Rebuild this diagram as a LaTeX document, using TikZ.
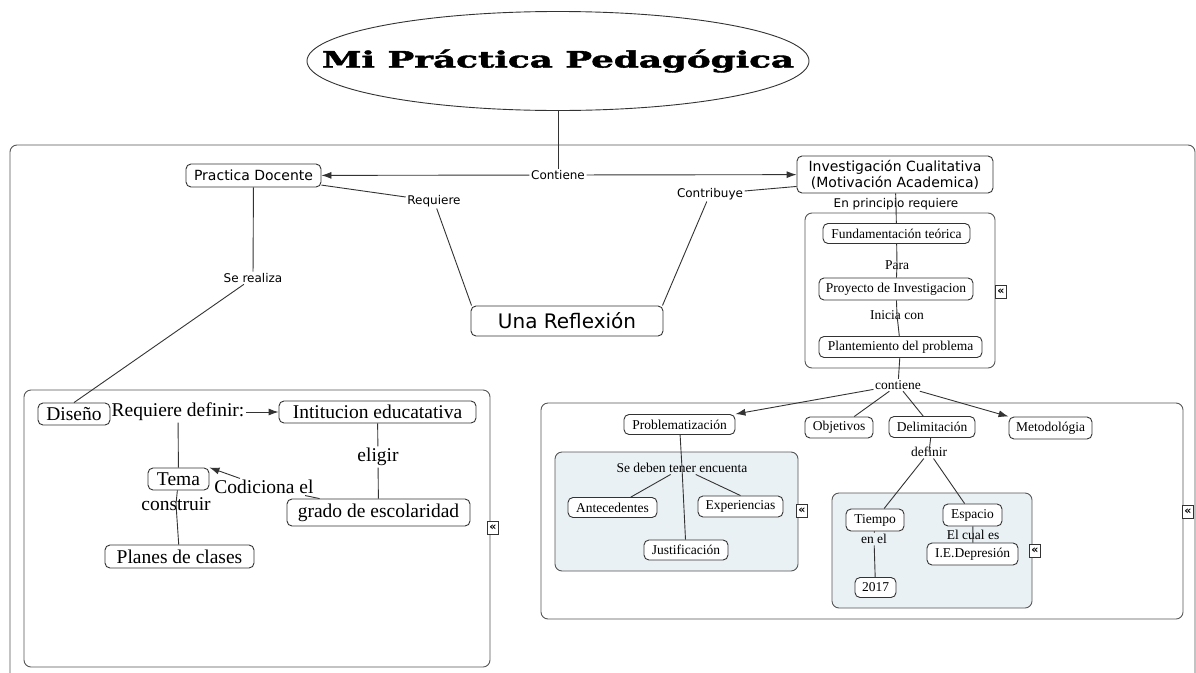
\documentclass[tikz,border=0pt]{standalone}
\usepackage{fontspec}
\setmainfont{Liberation Serif}
\newfontfamily\sansf{DejaVu Sans}
\newfontfamily\titlef[FakeBold=1.6]{DejaVu Serif Bold}
\usetikzlibrary{shapes.geometric,arrows.meta}
\definecolor{ln}{HTML}{333333}
\definecolor{grp}{HTML}{555555}
\definecolor{panel}{HTML}{EAF1F4}
\tikzset{
  concept/.style={draw=ln, line width=0.9pt, rounded corners=5pt, fill=white, inner sep=0pt, align=center},
  sansc/.style={concept, font=\sansf\fontsize{14}{16}\selectfont},
  rser/.style={concept, font=\fontsize{13.5}{15}\selectfont},
  lser/.style={concept, font=\fontsize{19.5}{21}\selectfont},
  slab/.style={inner sep=1.5pt, font=\sansf\fontsize{12}{14}\selectfont},
  rlab/.style={inner sep=1.5pt, font=\fontsize{13.5}{15}\selectfont},
  llab/.style={inner sep=1.5pt, font=\fontsize{19.5}{21}\selectfont},
  conn/.style={draw=ln, line width=0.9pt},
  arr/.style={conn, -{Latex[length=10pt,width=7pt]}},
  group/.style={draw=grp, line width=0.9pt, rounded corners=7pt},
  collapse/.style={draw=ln, line width=0.8pt, fill=white, inner sep=0pt, minimum width=11pt, minimum height=13pt, font=\sansf\bfseries\fontsize{11}{11}\selectfont},
}
\begin{document}
\begin{tikzpicture}[x=1pt, y=-1pt]
\useasboundingbox (0,0) rectangle (1196,672);
\clip (0,0) rectangle (1196,672);
\fill[white] (0,0) rectangle (1196,672);

% group frames
\draw[group] (10,145) rectangle (1195,720);
\draw[group] (24,390) rectangle (490,667);
\draw[group] (805,213) rectangle (995,368);
\draw[group] (541,403) rectangle (1183,619);
\draw[group, fill=panel] (555,452) rectangle (798,571);
\draw[group, fill=panel] (832,493) rectangle (1032,608);

% title
\node[draw=ln, line width=0.9pt, fill=white, shape=ellipse, inner sep=0pt, minimum width=502pt, minimum height=99pt,
      font=\titlef\fontsize{21.5}{24}\selectfont] (title) at (558,61) {\makebox[0pt]{\scalebox{1.66}[1.05]{Mi Práctica Pedagógica}}};

% top level
\node[sansc, minimum width=135pt, minimum height=23pt] (pd) at (253.5,175.5) {Practica Docente};
\node[sansc, minimum width=196pt, minimum height=37pt] (inv) at (895,174.5) {Investigación Cualitativa\\(Motivación Academica)};
\node[concept, font=\sansf\fontsize{20}{22}\selectfont, minimum width=192pt, minimum height=30pt] (refl) at (567,321) {Una Reflexión};
\node[slab] (cont) at (558,175) {Contiene};
\node[slab] (req) at (434,201) {Requiere};
\node[slab] (contr) at (710,194) {Contribuye};
\node[slab] (ser) at (253,278) {Se realiza};
\node[slab] (enp) at (896,204) {En principio requiere};

% research stack
\node[rser, minimum width=147pt, minimum height=20pt] (fund) at (896.5,233.5) {Fundamentación teórica};
\node[rlab] (para) at (897,265) {Para};
\node[rser, minimum width=154pt, minimum height=22pt] (proy) at (896,289) {Proyecto de Investigacion};
\node[rlab] (ini) at (897,315) {Inicia con};
\node[rser, minimum width=163pt, minimum height=21pt] (plant) at (900.5,347) {Plantemiento del problema};
\node[rlab] (cont2) at (898,385) {contiene};

% right box
\node[rser, minimum width=111pt, minimum height=20pt] (prob) at (679.5,424.5) {Problematización};
\node[rser, minimum width=68pt, minimum height=21pt] (obj) at (839,427.5) {Objetivos};
\node[rser, minimum width=86pt, minimum height=21pt] (deli) at (932,427) {Delimitación};
\node[rser, minimum width=83pt, minimum height=22pt] (meto) at (1050.5,428) {Metodológia};
\node[rlab] (sed) at (682,468) {Se deben tener encuenta};
\node[rser, minimum width=89pt, minimum height=20pt] (ante) at (612.5,507.5) {Antecedentes};
\node[rser, minimum width=85pt, minimum height=21pt] (expe) at (740.5,506.5) {Experiencias};
\node[rser, minimum width=84pt, minimum height=20pt] (just) at (686,550) {Justificación};
\node[rlab] (def) at (929,452) {definir};
\node[rser, minimum width=58pt, minimum height=22pt] (tiem) at (875,520) {Tiempo};
\node[rser, minimum width=59pt, minimum height=22pt] (espa) at (972.5,515) {Espacio};
\node[rlab] (enel) at (874,539) {en el};
\node[rser, minimum width=41pt, minimum height=20pt] (y2017) at (875.5,587.5) {2017};
\node[rlab] (elcu) at (973,535) {El cual es};
\node[rser, minimum width=91pt, minimum height=22pt] (ied) at (972.5,554) {I.E.Depresión};

% left box
\node[lser, minimum width=72pt, minimum height=22pt] (dis) at (74,414) {Diseño};
\node[llab] (rdef) at (178,412) {Requiere definir:};
\node[lser, minimum width=197pt, minimum height=22pt] (inst) at (377.5,412) {Intitucion educatativa};
\node[lser, minimum width=61pt, minimum height=22pt] (tema) at (178.5,479) {Tema};
\node[llab] (cons) at (176,504) {construir};
\node[lser, minimum width=149pt, minimum height=23pt] (plan) at (179.5,556.5) {Planes de clases};
\node[llab] (elig) at (378,457) {eligir};
\node[lser, minimum width=183pt, minimum height=27pt] (grado) at (378.5,512.5) {grado de escolaridad};
\node[llab] (codi) at (264,487) {Codiciona el};

% collapse markers
\node[collapse] (k1) at (493,528) {«};
\node[collapse] (k2) at (1001,292) {«};
\node[collapse] (k3) at (802,511) {«};
\node[collapse] (k4) at (1035,551) {«};
\node[collapse] (k5) at (1188,512) {«};

% connectors
\draw[conn] (title) -- (cont);
\draw[arr] (cont) -- (pd);
\draw[arr] (cont) -- (inv);
\draw[conn] (pd) -- (req);
\draw[conn] (req) -- ([xshift=1pt]refl.north west);
\draw[conn] ([yshift=7pt]inv.south west) -- (contr);
\draw[conn] (contr) -- ([xshift=-1pt]refl.north east);
\draw[conn] (pd) -- (ser);
\draw[conn] (ser) -- (dis.north);

\draw[arr] (rdef) -- (inst);
\draw[conn] (rdef) -- (tema);
\draw[conn] (tema) -- (cons.center) -- (plan);
\draw[conn] (inst) -- (elig);
\draw[conn] (elig) -- (grado);
\draw[conn] ([xshift=33pt]grado.north west) -- (codi);
\draw[arr] (codi) -- (tema.north east);

\draw[conn] (inv) -- (enp.center) -- (fund);
\draw[conn] (fund) -- (para.center) -- (proy);
\draw[conn] (proy) -- (ini.center) -- (plant);
\draw[conn] (plant) -- (cont2);
\draw[arr] (cont2) -- (prob.north east);
\draw[conn] (cont2) -- (obj);
\draw[conn] (cont2) -- (deli);
\draw[arr] (cont2) -- (meto.north west);
\draw[conn] (prob) -- (sed.center) -- (just);
\draw[conn] (sed) -- (ante);
\draw[conn] (sed) -- (expe.north);
\draw[conn] (deli) -- (def.center);
\draw[conn] (def) -- (tiem);
\draw[conn] (def) -- (espa);
\draw[conn] (tiem) -- (enel);
\draw[conn] (enel) -- (y2017);
\draw[conn] (espa) -- (elcu.center) -- (ied);
\end{tikzpicture}
\end{document}
